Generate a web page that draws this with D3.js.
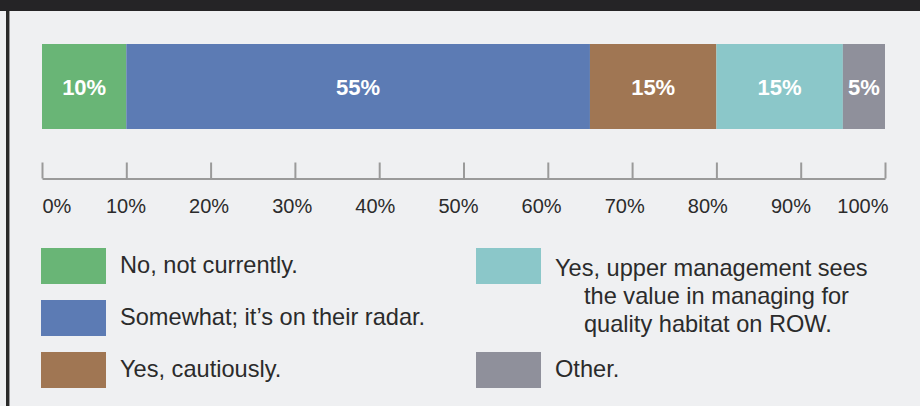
<!DOCTYPE html>
<html>
<head>
<meta charset="utf-8">
<script src="https://cdn.jsdelivr.net/npm/d3@7"></script>
<style>
  html, body { margin: 0; padding: 0; background: #eff0f2; }
  svg { display: block; font-family: "Liberation Sans", Arial, Helvetica, sans-serif; }
</style>
</head>
<body>
<script>
// stacked 100% bar -- survey answers
var categories = ["No, not currently.", "Somewhat; it\u2019s on their radar.", "Yes, cautiously.",
                  "Yes, upper management sees the value in managing for quality habitat on ROW.", "Other."];
var values = [10, 55, 15, 15, 5];
var colors = ["#69b576", "#5c7bb4", "#a07653", "#8bc7c9", "#8f909b"];
var tickValues = [0, 10, 20, 30, 40, 50, 60, 70, 80, 90, 100];
// legend text broken into lines like the original
var legendLines = [["No, not currently."], ["Somewhat; it\u2019s on their radar."], ["Yes, cautiously."],
                   ["Yes, upper management sees", "the value in managing for", "quality habitat on ROW."], ["Other."]];

(function(){
  var width = 920, height = 406;

  var svg = d3.select("body").append("svg")
    .attr("width", width)
    .attr("height", height);

  // frame: background, dark top band, left rule
  svg.append("rect").attr("width", width).attr("height", height).attr("fill", "#eff0f2");
  svg.append("rect").attr("width", width).attr("height", 11).attr("fill", "#252426");
  svg.append("rect").attr("x", 6).attr("y", 11).attr("width", 3).attr("height", height - 11).attr("fill", "#2a2a2a");
  svg.append("rect").attr("x", 9).attr("y", 11).attr("width", 1).attr("height", height - 11).attr("fill", "#9a9a9c");

  var x = d3.scaleLinear().domain([0, 100]).range([42, 885]);

  // stack the values
  var stack = [];
  var acc = 0;
  values.forEach(function(v, i){
    stack.push({start: acc, end: acc + v, value: v, color: colors[i], name: categories[i]});
    acc += v;
  });

  var barTop = 44, barH = 85;
  var seg = svg.append("g").attr("class", "bar").selectAll("g")
    .data(stack)
    .enter().append("g");

  seg.append("rect")
    .attr("x", function(d){ return x(d.start); })
    .attr("y", barTop)
    .attr("width", function(d){ return x(d.end) - x(d.start); })
    .attr("height", barH)
    .attr("fill", function(d){ return d.color; });

  seg.append("text")
    .attr("x", function(d){ return (x(d.start) + x(d.end)) / 2; })
    .attr("y", barTop + barH / 2 + 8)
    .attr("text-anchor", "middle")
    .attr("fill", "#fff")
    .attr("font-size", 22)
    .attr("font-weight", "bold")
    .text(function(d){ return d.value + "%"; });

  // axis with upward ticks
  var axisY = 178.5;
  var axis = svg.append("g")
    .attr("transform", "translate(0," + axisY + ")")
    .call(d3.axisBottom(x)
      .tickValues(tickValues)
      .tickSize(-16)
      .tickSizeOuter(0)
      .tickFormat(function(d){ return d + "%"; }));

  axis.select(".domain").attr("stroke", "#9a9a9a").attr("stroke-width", 2);
  axis.selectAll(".tick line").attr("stroke", "#9a9a9a").attr("stroke-width", 2);

  // labels in the original sit a bit tighter than the ticks
  var labelX = d3.scaleLinear().domain([10, 90]).range([125.5, 790.5]);
  axis.selectAll(".tick text")
    .attr("fill", "#2b2b2b")
    .attr("font-size", 20)
    .attr("font-family", null)
    .attr("y", 34)
    .attr("dy", 0)
    .attr("text-anchor", function(d){ return d === 0 ? "start" : (d === 100 ? "end" : "middle"); })
    .attr("x", function(d){
      if (d === 0) return 0;
      if (d === 100) return 3;
      return labelX(d) - x(d);
    });
  axis.attr("font-family", null);

  // legend, two columns
  var legendPos = [
    {x: 41, row: 0}, {x: 41, row: 1}, {x: 41, row: 2},
    {x: 476, row: 0}, {x: 476, row: 2}
  ];
  var legend = svg.append("g").attr("class", "legend").selectAll("g")
    .data(categories)
    .enter().append("g")
    .attr("transform", function(d, i){
      return "translate(" + legendPos[i].x + "," + (248 + legendPos[i].row * 52) + ")";
    });

  legend.append("rect")
    .attr("width", 65)
    .attr("height", 36)
    .attr("fill", function(d, i){ return colors[i]; });

  legend.append("text")
    .attr("fill", "#2b2b2b")
    .attr("font-size", 23.6)
    .each(function(d, i){
      var t = d3.select(this);
      var lines = legendLines[i];
      var first = lines.length > 1 ? 27.5 : 25;
      lines.forEach(function(line, j){
        t.append("tspan")
          .attr("x", j === 0 ? 79 : 108)
          .attr("y", first + j * 28)
          .text(line);
      });
    });
})();
</script>
</body>
</html>
